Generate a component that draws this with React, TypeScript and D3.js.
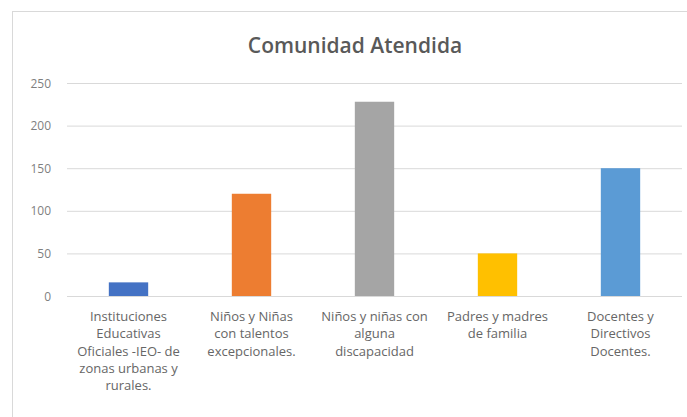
import React, { useEffect, useRef } from "react";
import * as d3 from "d3";

const categories = [
  "Instituciones Educativas Oficiales -IEO- de zonas urbanas y rurales.",
  "Niños y Niñas con talentos excepcionales.",
  "Niños y niñas con alguna discapacidad",
  "Padres y madres de familia",
  "Docentes y Directivos Docentes.",
];

// line breaks as they appear under each bar
const labelLines = [
  ["Instituciones", "Educativas", "Oficiales -IEO- de", "zonas urbanas y", "rurales."],
  ["Niños y Niñas", "con talentos", "excepcionales."],
  ["Niños y niñas con", "alguna", "discapacidad"],
  ["Padres y madres", "de familia"],
  ["Docentes y", "Directivos", "Docentes."],
];

const values = [16, 120, 228, 50, 150];
const colors = ["#4472C4", "#ED7D31", "#A5A5A5", "#FFC000", "#5B9BD5"];
const yTicks = [0, 50, 100, 150, 200, 250];

const W = 687;
const H = 417;
const FONT = "'Open Sans', 'Noto Sans', sans-serif";

const App: React.FC = () => {
  const ref = useRef<SVGSVGElement>(null);

  useEffect(() => {
    const svg = d3.select(ref.current);
    svg.selectAll("*").remove();

    const left = 67;
    const right = 682;
    const top = 83;
    const bottom = 296;

    const x = d3.scaleBand<number>().domain(d3.range(categories.length)).range([left, right]).paddingInner(0.68).paddingOuter(0.34);
    const y = d3.scaleLinear().domain([0, 250]).range([bottom, top]);

    // chart frame
    svg.append("rect").attr("x", 12.5).attr("y", 11.5).attr("width", W).attr("height", H)
      .attr("fill", "#fff").attr("stroke", "#D9D9D9");

    svg.append("text")
      .attr("x", 355).attr("y", 53)
      .attr("text-anchor", "middle")
      .attr("font-family", FONT)
      .attr("font-size", 21)
      .attr("font-weight", 600)
      .attr("fill", "#595959")
      .text("Comunidad Atendida");

    // gridlines
    svg.append("g").selectAll("line").data(yTicks).join("line")
      .attr("x1", left).attr("x2", right)
      .attr("y1", (d) => y(d) + 0.5).attr("y2", (d) => y(d) + 0.5)
      .attr("stroke", "#D9D9D9").attr("stroke-width", 1);

    svg.append("g").selectAll("text").data(yTicks).join("text")
      .attr("x", 51).attr("y", (d) => y(d) + 4.5)
      .attr("text-anchor", "end")
      .attr("font-family", FONT).attr("font-size", 12).attr("fill", "#7F7F7F")
      .text((d) => String(d));

    svg.append("g").selectAll("rect").data(values).join("rect")
      .attr("x", (_, i) => x(i)!)
      .attr("width", x.bandwidth())
      .attr("y", (d) => y(d))
      .attr("height", (d) => bottom - y(d))
      .attr("fill", (_, i) => colors[i]);

    const labels = svg.append("g").selectAll("text").data(labelLines).join("text")
      .attr("text-anchor", "middle")
      .attr("font-family", FONT).attr("font-size", 13).attr("fill", "#666666");
    labels.each(function (lines, i) {
      const cx = x(i)! + x.bandwidth() / 2;
      d3.select(this).selectAll("tspan").data(lines).join("tspan")
        .attr("x", cx).attr("y", (_, j) => 321 + j * 17.3)
        .text((t) => t);
    });
  }, []);

  return (
    <svg ref={ref} width={W} height={H} style={{ position: "absolute", left: 0, top: 0, background: "#fff" }} />
  );
};

export default App;
